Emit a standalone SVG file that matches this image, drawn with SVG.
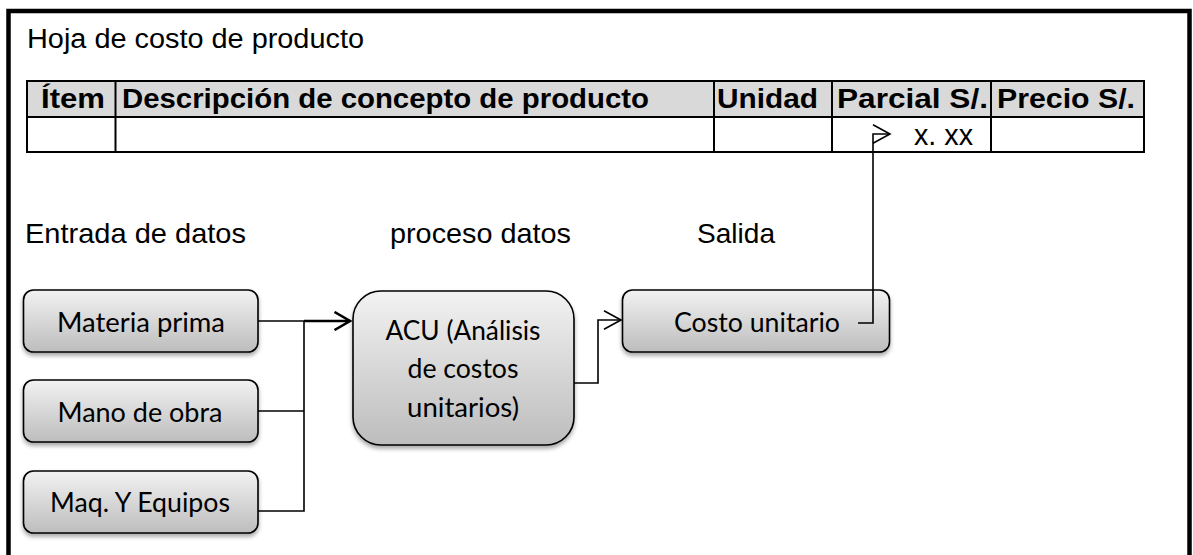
<svg xmlns="http://www.w3.org/2000/svg" width="1193" height="555" viewBox="0 0 1193 555">
<style>
.t{font-family:"Liberation Sans",Arial,sans-serif;fill:#000}
.h{font-family:"Liberation Sans",Arial,sans-serif;font-weight:bold;font-size:27px;fill:#000}
.b{font-family:Lato,"Open Sans",sans-serif;font-size:26px;fill:#000;text-anchor:middle}
.box{fill:url(#g);stroke:#000;stroke-width:1.6;filter:url(#sh)}
.cell{fill:none;stroke:#000;stroke-width:2}
.c{fill:none;stroke:#000;stroke-width:1.6}
</style>
<defs>
<linearGradient id="g" x1="0" y1="0" x2="0" y2="1">
<stop offset="0" stop-color="#f2f2f2"/>
<stop offset="1" stop-color="#bdbdbd"/>
</linearGradient>
<filter id="sh" x="-10%" y="-10%" width="120%" height="130%">
<feDropShadow dx="0" dy="3" stdDeviation="2" flood-color="#000" flood-opacity="0.35"/>
</filter>
<marker id="oa" markerUnits="userSpaceOnUse" viewBox="0 0 20 20" markerWidth="20" markerHeight="20" refX="18" refY="10" orient="auto">
<path d="M1,0.8 L18,10 L1,19.2" fill="none" stroke="#000" stroke-width="1.6"/>
</marker>
<marker id="ob" markerUnits="userSpaceOnUse" viewBox="0 0 20 20" markerWidth="20" markerHeight="20" refX="17" refY="10" orient="auto">
<path d="M1.5,1 L17,10 L1.5,19" fill="none" stroke="#000" stroke-width="2.6"/>
</marker>
</defs>
<rect width="1193" height="555" fill="#fff"/>
<rect x="8.5" y="11" width="1181" height="570" fill="none" stroke="#000" stroke-width="4.5"/>

<text class="t" x="27" y="48" font-size="27" textLength="337" lengthAdjust="spacingAndGlyphs">Hoja de costo de producto</text>

<g id="table">
<rect x="27" y="81" width="1117" height="36" fill="#d9d9d9"/>
<rect x="27" y="81" width="1117" height="71" class="cell"/>
<line x1="27" y1="117" x2="1144" y2="117" class="cell"/>
<line x1="115.5" y1="81" x2="115.5" y2="152" class="cell"/>
<line x1="714" y1="81" x2="714" y2="152" class="cell"/>
<line x1="832" y1="81" x2="832" y2="152" class="cell"/>
<line x1="991" y1="81" x2="991" y2="152" class="cell"/>
<text class="h" x="41" y="108" textLength="64" lengthAdjust="spacingAndGlyphs">Ítem</text>
<text class="h" x="122" y="108" textLength="527" lengthAdjust="spacingAndGlyphs">Descripción de concepto de producto</text>
<text class="h" x="717" y="108" textLength="101" lengthAdjust="spacingAndGlyphs">Unidad</text>
<text class="h" x="837" y="108" textLength="151" lengthAdjust="spacingAndGlyphs">Parcial S/.</text>
<text class="h" x="997" y="108" textLength="138" lengthAdjust="spacingAndGlyphs">Precio S/.</text>
<text class="t" x="914" y="145" font-size="29" textLength="59" lengthAdjust="spacingAndGlyphs">x. xx</text>
</g>

<text class="t" x="25" y="243" font-size="28" textLength="221" lengthAdjust="spacingAndGlyphs">Entrada de datos</text>
<text class="t" x="390" y="243" font-size="28" textLength="181" lengthAdjust="spacingAndGlyphs">proceso datos</text>
<text class="t" x="697" y="243" font-size="28" textLength="78" lengthAdjust="spacingAndGlyphs">Salida</text>

<g id="materia">
<rect class="box" x="23.5" y="290" width="234.5" height="62" rx="10"/>
<text class="b" x="141" y="332" textLength="168" lengthAdjust="spacingAndGlyphs">Materia prima</text>
</g>
<g id="mano">
<rect class="box" x="23.5" y="380" width="234.5" height="62" rx="10"/>
<text class="b" x="140" y="422" textLength="165" lengthAdjust="spacingAndGlyphs">Mano de obra</text>
</g>
<g id="maq">
<rect class="box" x="23.5" y="471" width="234.5" height="62" rx="10"/>
<text class="b" x="140" y="512" textLength="180" lengthAdjust="spacingAndGlyphs">Maq. Y Equipos</text>
</g>
<g id="acu">
<rect class="box" x="353" y="291" width="221" height="154" rx="28"/>
<text class="b" x="463" y="340" textLength="155" lengthAdjust="spacingAndGlyphs">ACU (Análisis</text>
<text class="b" x="463" y="378" textLength="111" lengthAdjust="spacingAndGlyphs">de costos</text>
<text class="b" x="463" y="417" textLength="112" lengthAdjust="spacingAndGlyphs">unitarios)</text>
</g>
<g id="costo">
<rect class="box" x="622.5" y="290" width="267" height="62" rx="10"/>
<text class="b" x="757" y="332" textLength="166" lengthAdjust="spacingAndGlyphs">Costo unitario</text>
</g>

<g id="connectors">
<path class="c" d="M258,321 H304"/>
<path d="M304,321 H350" fill="none" stroke="#000" stroke-width="2.4" marker-end="url(#ob)"/>
<path class="c" d="M258,411 H304"/>
<path class="c" d="M258,511 H304 V321"/>
<path class="c" d="M574,383 H598 V320 H621" marker-end="url(#oa)"/>
<path class="c" d="M858,323 H873 V134 H890" marker-end="url(#oa)"/>
</g>
</svg>
